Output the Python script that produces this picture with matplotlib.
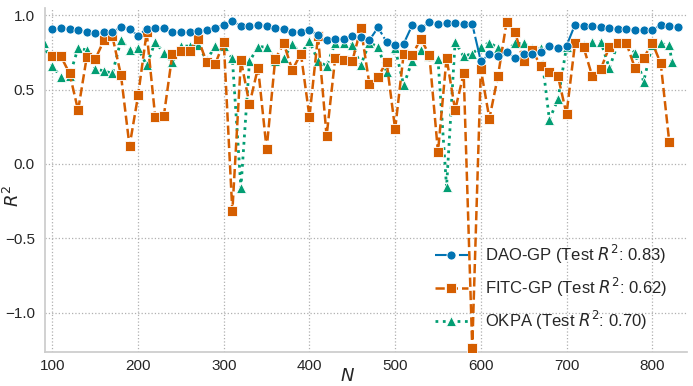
import matplotlib
matplotlib.use("Agg")
import matplotlib.pyplot as plt
import numpy as np

# ---- data ----
n_dao = list(range(100, 840, 10))
dao_r2 = [0.904, 0.911, 0.904, 0.897, 0.884, 0.877, 0.884, 0.887, 0.918, 0.910,
          0.859, 0.910, 0.911, 0.911, 0.884, 0.884, 0.884, 0.892, 0.899, 0.913,
          0.937, 0.960, 0.927, 0.927, 0.933, 0.926, 0.911, 0.904, 0.890, 0.890,
          0.899, 0.866, 0.832, 0.837, 0.843, 0.859, 0.850, 0.832, 0.917, 0.820,
          0.798, 0.809, 0.933, 0.911, 0.953, 0.940, 0.944, 0.944, 0.940, 0.940,
          0.691, 0.736, 0.727, 0.753, 0.713, 0.736, 0.742, 0.753, 0.792, 0.776,
          0.794, 0.937, 0.928, 0.926, 0.917, 0.911, 0.906, 0.906, 0.899, 0.899,
          0.899, 0.933, 0.926, 0.917]

n_fitc = list(range(100, 830, 10))
fitc_r2 = [0.722, 0.722, 0.608, 0.360, 0.716, 0.703, 0.830, 0.857, 0.597, 0.119,
           0.460, 0.884, 0.314, 0.321, 0.738, 0.758, 0.758, 0.843, 0.682, 0.670,
           0.820, -0.320, 0.697, 0.401, 0.648, 0.099, 0.704, 0.810, 0.630, 0.742,
           0.316, 0.861, 0.186, 0.709, 0.697, 0.691, 0.911, 0.535, 0.583, 0.688,
           0.233, 0.742, 0.731, 0.843, 0.729, 0.079, 0.713, 0.361, 0.608, -1.240,
           0.637, 0.305, 0.590, 0.951, 0.884, 0.691, 0.765, 0.657, 0.619, 0.590,
           0.334, 0.814, 0.783, 0.590, 0.637, 0.787, 0.810, 0.810, 0.642, 0.709,
           0.816, 0.675, 0.144]

n_okpa = list(range(90, 830, 10)) + [823]
okpa_r2 = [0.810, 0.655, 0.587, 0.590, 0.780, 0.765, 0.637, 0.626, 0.608, 0.832,
           0.769, 0.776, 0.664, 0.820, 0.746, 0.682, 0.792, 0.792, 0.798, 0.697,
           0.792, 0.792, 0.709, -0.161, 0.689, 0.787, 0.787, 0.695, 0.711, 0.806,
           0.738, 0.825, 0.694, 0.657, 0.812, 0.810, 0.800, 0.664, 0.815, 0.787,
           0.619, 0.776, 0.529, 0.694, 0.765, 0.722, 0.705, -0.155, 0.822, 0.722,
           0.742, 0.787, 0.815, 0.780, 0.760, 0.810, 0.810, 0.780, 0.776, 0.298,
           0.433, 0.787, 0.820, 0.800, 0.818, 0.822, 0.644, 0.810, 0.810, 0.746,
           0.553, 0.800, 0.810, 0.796, 0.686]

labels = ["DAO-GP (Test $R^2$: 0.83)",
          "FITC-GP (Test $R^2$: 0.62)",
          "OKPA (Test $R^2$: 0.70)"]
xticks = [100, 200, 300, 400, 500, 600, 700, 800]
yticks = [-1.0, -0.5, 0.0, 0.5, 1.0]

# ---- style ----
plt.rcParams['font.family'] = ['Liberation Sans', 'DejaVu Sans']
plt.rcParams['mathtext.fontset'] = 'dejavusans'
text_color = '#262626'

fig = plt.figure(figsize=(6.93, 3.86), dpi=100)
ax = fig.add_axes([0.0645, 0.0881, 0.9268, 0.8919])

c_blue, c_orange, c_green = '#0173b2', '#d55e00', '#029e73'

ax.plot(n_dao, dao_r2, color=c_blue, linestyle=(0, (10, 1.5)), lw=1.5,
        marker='o', ms=6.5, mec='white', mew=0.6, label=labels[0], zorder=5)
ax.plot(n_fitc, fitc_r2, color=c_orange, linestyle='--', lw=1.8,
        marker='s', ms=6.5, mec='white', mew=0.6, label=labels[1], zorder=4)
ax.plot(n_okpa, okpa_r2, color=c_green, linestyle=':', lw=2.0,
        marker='^', ms=6.5, mec='white', mew=0.6, label=labels[2], zorder=3)

ax.set_xlim(91, 840.6)
ax.set_ylim(-1.265, 1.05)
ax.set_xticks(xticks)
ax.set_yticks(yticks)
ax.grid(True, linestyle=':', color='#b0b0b0', lw=0.9)
ax.set_axisbelow(True)
for s in ['top', 'right']:
    ax.spines[s].set_visible(False)
for s in ['left', 'bottom']:
    ax.spines[s].set_color('#cccccc')
    ax.spines[s].set_linewidth(1.25)
ax.tick_params(axis='both', length=0, labelsize=11, colors=text_color)
ax.tick_params(axis='y', pad=7)
ax.tick_params(axis='x', pad=5)
ax.set_xlabel('$N$', fontsize=13, color=text_color)
ax.xaxis.set_label_coords(0.471, -0.047)
ax.set_ylabel('$R^2$', fontsize=13, color=text_color)
ax.yaxis.set_label_coords(-0.034, 0.455)

leg = ax.legend(loc='lower right', fontsize=12, frameon=False,
                handlelength=2.0, handletextpad=1.0, labelspacing=0.6,
                borderaxespad=0.8)
for t in leg.get_texts():
    t.set_color(text_color)

fig.savefig('out.png', dpi=100)
